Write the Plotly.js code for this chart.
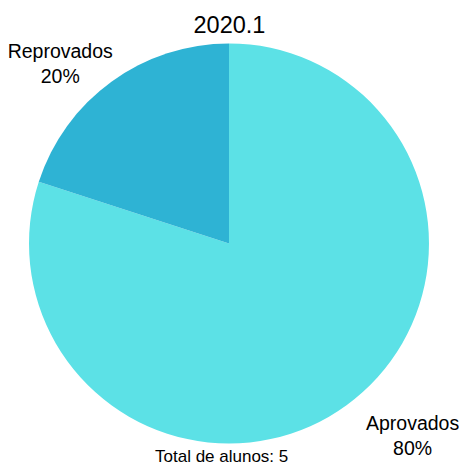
<!DOCTYPE html>
<html>
<head>
<meta charset="utf-8">
<script src="https://cdn.plot.ly/plotly-3.0.1.min.js"></script>
<style>html,body{margin:0;padding:0;background:#fff;}#chart{width:459px;height:466px;}</style>
</head>
<body>
<div id="chart"></div>
<script>
const labels = ["Aprovados", "Reprovados"];
const values = [4, 1];
const colors = ["#5ce1e6", "#2eb3d4"];
const chartTitle = "2020.1";
const totalText = "Total de alunos: " + values.reduce((a, b) => a + b, 0);

const FONT = "Arial, 'Liberation Sans', sans-serif";
const pieDomain = {x: [0.0632, 0.9346], y: [0.045, 0.910]};
const labelDomain = {x: [0.0752, 0.9684], y: [0.0214, 0.9078]};

const data = [{
  type: "pie",
  labels: labels,
  values: values,
  sort: false,
  direction: "clockwise",
  rotation: 0,
  marker: {colors: colors, line: {width: 0}},
  textinfo: "none",
  domain: pieDomain,
  showlegend: false,
  hoverinfo: "none"
}, {
  type: "pie",
  labels: labels,
  values: values,
  sort: false,
  direction: "clockwise",
  rotation: 2,
  marker: {colors: ["rgba(0,0,0,0)", "rgba(0,0,0,0)"], line: {width: 0}},
  textinfo: "label+percent",
  textposition: "outside",
  texttemplate: "%{label}<br>%{percent:.0%}",
  outsidetextfont: {family: FONT, size: 19.5, color: "#000"},
  domain: labelDomain,
  showlegend: false,
  hoverinfo: "none"
}];

const layout = {
  width: 459,
  height: 466,
  margin: {l: 0, r: 0, t: 0, b: 0},
  paper_bgcolor: "#fff",
  title: {
    text: chartTitle,
    font: {family: FONT, size: 23.5, color: "#000"},
    x: 0.5, xanchor: "center",
    y: 0.946, yanchor: "middle", yref: "container"
  },
  annotations: [{
    text: totalText,
    showarrow: false,
    xref: "paper", yref: "paper",
    x: 0.482, y: 0.021, xanchor: "center", yanchor: "middle",
    font: {family: FONT, size: 17, color: "#000"}
  }]
};

Plotly.newPlot("chart", data, layout, {staticPlot: true});
</script>
</body>
</html>
